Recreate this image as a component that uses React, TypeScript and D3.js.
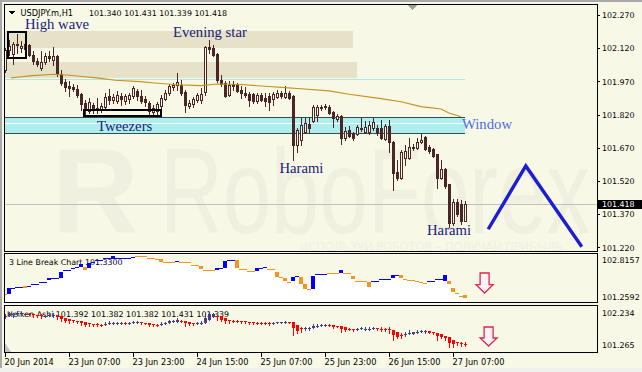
import React, { useEffect } from "react";
import * as d3 from "d3";

// ---------------- data ----------------
const symbolTitle = "USDJPY.m,H1";
const lastBarValues = ["101.340", "101.431", "101.339", "101.418"];
const currentPrice = 101.418;

const timeTickBars = [0, 16, 32, 48, 64, 80, 96, 112];
const timeTickLabels = [
  "20 Jun 2014", "23 Jun 07:00", "23 Jun 23:00", "24 Jun 15:00",
  "25 Jun 07:00", "25 Jun 23:00", "26 Jun 15:00", "27 Jun 07:00",
];
const priceTicks = [102.27, 102.12, 101.97, 101.82, 101.67, 101.52, 101.37, 101.22];

const open = [
  102.022, 102.112, 102.094, 102.139, 102.121, 102.139, 102.135, 102.089, 102.062, 102.031,
  102.058, 102.085, 102.067, 102.085, 102.004, 101.967, 101.949, 101.945, 101.936, 101.913,
  101.873, 101.836, 101.863, 101.850, 101.841, 101.854, 101.904, 101.886, 101.882, 101.904,
  101.882, 101.891, 101.904, 101.927, 101.904, 101.891, 101.873, 101.832, 101.836, 101.859,
  101.891, 101.918, 101.945, 101.954, 101.954, 101.922, 101.859, 101.868, 101.886, 101.886,
  101.922, 102.126, 102.121, 102.094, 101.976, 101.963, 101.909, 101.958, 101.954, 101.931,
  101.918, 101.913, 101.913, 101.882, 101.909, 101.895, 101.904, 101.891, 101.900, 101.918,
  101.900, 101.918, 101.904, 101.683, 101.705, 101.741, 101.778, 101.791, 101.818, 101.854,
  101.854, 101.854, 101.832, 101.800, 101.814, 101.714, 101.750, 101.737, 101.732, 101.755,
  101.741, 101.741, 101.759, 101.759, 101.759, 101.710, 101.768, 101.696, 101.561, 101.534,
  101.624, 101.624, 101.669, 101.669, 101.696, 101.719, 101.673, 101.664, 101.642, 101.534,
  101.574, 101.507, 101.330, 101.425, 101.416, 101.340,
];
const high = [
  102.121, 102.157, 102.148, 102.184, 102.153, 102.144, 102.139, 102.107, 102.076, 102.107,
  102.098, 102.107, 102.126, 102.089, 102.022, 101.981, 101.972, 101.958, 101.954, 101.918,
  101.886, 101.895, 101.873, 101.895, 101.873, 101.918, 101.936, 101.913, 101.927, 101.918,
  101.913, 101.918, 101.949, 101.936, 101.931, 101.904, 101.882, 101.863, 101.877, 101.909,
  101.931, 101.958, 101.963, 102.008, 101.976, 101.931, 101.886, 101.900, 101.918, 101.940,
  102.130, 102.157, 102.135, 102.098, 101.999, 101.972, 101.972, 101.972, 101.963, 101.949,
  101.945, 101.922, 101.918, 101.918, 101.918, 101.918, 101.918, 101.922, 101.931, 101.927,
  101.949, 101.927, 101.909, 101.759, 101.805, 101.805, 101.805, 101.863, 101.863, 101.863,
  101.868, 101.863, 101.836, 101.823, 101.818, 101.764, 101.768, 101.741, 101.773, 101.805,
  101.791, 101.791, 101.805, 101.773, 101.796, 101.778, 101.796, 101.701, 101.615, 101.660,
  101.683, 101.714, 101.687, 101.714, 101.732, 101.723, 101.683, 101.669, 101.642, 101.615,
  101.579, 101.507, 101.439, 101.439, 101.434, 101.431,
];
const low = [
  102.013, 102.089, 102.049, 102.098, 102.103, 102.094, 102.085, 102.049, 102.040, 102.022,
  102.049, 102.062, 102.044, 101.995, 101.954, 101.927, 101.904, 101.927, 101.900, 101.841,
  101.823, 101.827, 101.827, 101.827, 101.832, 101.841, 101.868, 101.873, 101.873, 101.863,
  101.868, 101.873, 101.895, 101.886, 101.873, 101.859, 101.818, 101.818, 101.823, 101.850,
  101.886, 101.909, 101.931, 101.931, 101.909, 101.832, 101.850, 101.854, 101.877, 101.873,
  101.909, 102.098, 102.085, 101.967, 101.949, 101.900, 101.904, 101.931, 101.922, 101.895,
  101.900, 101.859, 101.873, 101.873, 101.882, 101.859, 101.841, 101.863, 101.895, 101.895,
  101.895, 101.891, 101.615, 101.651, 101.683, 101.737, 101.737, 101.787, 101.791, 101.841,
  101.845, 101.823, 101.764, 101.791, 101.687, 101.705, 101.719, 101.705, 101.728, 101.746,
  101.737, 101.732, 101.750, 101.728, 101.710, 101.705, 101.651, 101.479, 101.525, 101.529,
  101.592, 101.619, 101.660, 101.664, 101.692, 101.660, 101.646, 101.628, 101.488, 101.529,
  101.488, 101.312, 101.321, 101.362, 101.326, 101.339,
];
const close = [
  102.112, 102.130, 102.139, 102.135, 102.130, 102.117, 102.089, 102.062, 102.049, 102.058,
  102.085, 102.076, 102.085, 102.004, 101.963, 101.945, 101.940, 101.936, 101.909, 101.868,
  101.841, 101.877, 101.850, 101.841, 101.859, 101.900, 101.886, 101.900, 101.909, 101.891,
  101.904, 101.909, 101.940, 101.904, 101.882, 101.877, 101.836, 101.850, 101.868, 101.895,
  101.918, 101.949, 101.954, 101.967, 101.918, 101.863, 101.873, 101.891, 101.909, 101.913,
  102.126, 102.117, 102.089, 101.976, 101.958, 101.904, 101.954, 101.949, 101.927, 101.918,
  101.909, 101.886, 101.882, 101.909, 101.886, 101.882, 101.877, 101.913, 101.918, 101.904,
  101.918, 101.895, 101.683, 101.750, 101.773, 101.782, 101.759, 101.854, 101.854, 101.850,
  101.859, 101.827, 101.805, 101.814, 101.714, 101.746, 101.723, 101.714, 101.764, 101.759,
  101.764, 101.773, 101.787, 101.737, 101.714, 101.768, 101.696, 101.556, 101.534, 101.651,
  101.655, 101.673, 101.673, 101.696, 101.705, 101.664, 101.655, 101.633, 101.534, 101.574,
  101.498, 101.330, 101.425, 101.371, 101.339, 101.418,
];

// moving average read at sample bars
const maBars = [1.5, 4.25, 6.75, 12.5, 16.25, 20, 23, 27.5, 33.75, 37.5, 43, 49, 53, 59, 65, 70, 74, 81, 86, 94, 99, 104, 109, 111, 114];
const maValues = [
  101.986, 101.991, 101.996, 102.002, 101.998, 101.991, 101.986, 101.975, 101.969, 101.963,
  101.955, 101.951, 101.958, 101.956, 101.948, 101.942, 101.937, 101.927, 101.912, 101.892,
  101.878, 101.856, 101.845, 101.827, 101.810,
];

// zones (bar range, price range)
const beigeZoneEndBars = [87, 88];
const beigeZoneTops = [102.198, 102.058];
const beigeZoneBottoms = [102.121, 101.986];
const windowZone = [115, 101.809, 101.737]; // end bar, top, bottom
const windowGap = [101.782, 101.776];
const cyanLineLevel = 101.981;

// annotation boxes [bar0, bar1, top, bottom]
const highWaveBox = [0.8, 5.2, 102.193, 102.076];
const tweezersBox = [19.75, 39, 101.841, 101.814];

const noteTexts = ["High wave", "Evening star", "Tweezers", "Harami", "Window", "Harami"];
const noteBars = [5, 42, 23, 68.6, 114.25, 105.5];
const notePrices = [102.207, 102.169, 101.748, 101.554, 101.753, 101.274];

const zigBars = [120.8, 130.2, 144.2];
const zigPrices = [101.302, 101.588, 101.223];

// 3 Line Break indicator
const lbRange = [101.2592, 102.8157];
const lbTitle = "3 Line Break Chart 101.3300";
const lbLevel = [
  101.452, 101.675, 101.675, 101.709, 101.709, 101.743, 101.743, 101.790, 101.790, 101.878,
  101.878, 102.014, 102.014, 102.014, 102.196, 102.264, 102.264, 102.332, 102.366, 102.467,
  102.274, 102.501, 102.535, 102.613, 102.613, 102.670, 102.670, 102.748, 102.691, 102.691,
  102.691, 102.691, 102.724, 102.738, 102.738, 102.738, 102.691, 102.691, 102.647, 102.555,
  102.555, 102.555, 102.555, 102.589, 102.535, 102.535, 102.535, 102.443, 102.443, 102.308,
  102.274, 102.274, 102.274, 102.332, 102.332, 102.579, 102.613, 102.613, 102.352, 102.318,
  102.318, 102.240, 102.240, 102.352, 102.352, 102.366, 102.298, 102.298, 102.027, 102.027,
  101.912, 101.878, 102.048, 102.071, 101.790, 101.631, 101.631, 102.071, 102.129, 102.129,
  102.129, 102.156, 102.156, 102.156, 102.274, 102.163, 102.163, 101.970, 101.902, 101.902,
  101.902, 101.709, 101.902, 101.902, 101.970, 101.970, 101.970, 102.105, 102.105, 101.993,
  101.960, 101.940, 101.920, 101.900, 101.868, 101.824, 101.902, 101.902, 101.960, 101.960,
  102.105, 101.790, 101.520, 101.506, 101.405, 101.330,
];
const lbUp = [
  0, 1, 1, 1, 1, 0, 1, 1, 1, 1,
  1, 1, 1, 1, 1, 1, 1, 1, 1, 1,
  0, 1, 1, 1, 1, 1, 1, 1, 1, 1,
  1, 1, 1, 0, 0, 0, 0, 0, 0, 0,
  0, 0, 0, 1, 0, 0, 0, 0, 0, 0,
  0, 0, 0, 1, 1, 1, 1, 1, 0, 0,
  0, 0, 0, 1, 1, 1, 0, 0, 0, 0,
  0, 0, 1, 1, 0, 0, 0, 1, 1, 1,
  1, 0, 0, 0, 1, 0, 0, 0, 0, 0,
  0, 0, 1, 1, 1, 1, 1, 1, 1, 0,
  0, 0, 0, 0, 0, 0, 1, 1, 1, 1,
  1, 0, 0, 0, 0, 0,
];
const lbBrickBar = [1, 5, 11, 14, 19, 20, 21, 27, 39, 43, 49, 53, 55, 58, 63, 68, 70, 72, 74, 75, 77, 84, 87, 91, 97, 99, 110, 111, 112, 115];
const lbBrickFrom = [
  101.472, 101.743, 101.946, 102.014, 102.386, 102.386, 102.352, 102.636, 102.647, 102.535,
  102.410, 102.274, 102.352, 102.613, 102.240, 102.217, 101.993, 101.912, 102.048, 101.790,
  101.631, 102.163, 102.081, 101.878, 102.014, 102.105, 101.902, 101.902, 101.655, 101.428,
];
const lbBrickTo = [
  101.675, 101.655, 102.014, 102.196, 102.467, 102.274, 102.501, 102.748, 102.555, 102.589,
  102.308, 102.332, 102.579, 102.352, 102.352, 102.027, 101.912, 102.048, 101.790, 101.631,
  102.071, 102.274, 101.970, 101.709, 102.105, 101.993, 102.105, 101.790, 101.520, 101.330,
];
const lbAxisLabels = ["102.8157", "101.2592"];

// Heiken Ashi indicator
const haRange = [101.265, 102.234];
const haTitle = "Heiken Ashi";
const haTitleValues = ["101.392", "101.382", "101.382", "101.431", "101.339"];
const haAxisLabels = ["102.234", "101.265"];

// signal arrows [bar, top, bottom]
const lbArrow = [119.9, 102.173, 101.496];
const haArrow = [120.9, 101.798, 101.338];

const watermarkText = "RoboForex";
const watermarkSub = "ИСПОЛЬЗУЙ РОБОТОВ – ПОЛУЧАЙ ПРИБЫЛЬ";

// ---------------- styles ----------------
const BG = "#f8f8e7";
const CANDLE = "#4a2626";
const UI = "'DejaVu Sans', Verdana, sans-serif";
const SERIF = "'Liberation Serif', 'Times New Roman', serif";
const FS = 7.9;
const FS_TIME = 8.2;

function arrowPath(cx: number, top: number, bottom: number) {
  const hy = top + (bottom - top) * 0.58;
  return `M${cx - 4.5},${top} H${cx + 4.5} V${hy} H${cx + 8.5} L${cx},${bottom} L${cx - 8.5},${hy} H${cx - 4.5} Z`;
}

export default function App() {
  useEffect(() => {
    document.body.style.margin = "0";
  }, []);

  const W = 642;
  const H = 372;
  const L = 5, R = 597;
  const mainTop = 4, mainBot = 251;
  const p1Top = 253, p1Bot = 302;
  const p2Top = 305, p2Bot = 352;

  const x = d3.scaleLinear().domain([0, 148]).range([L, R]);
  const y = d3.scaleLinear().domain([101.22, 102.27]).range([247.4, 15]);
  const yLB = d3.scaleLinear().domain(lbRange).range([300, 254]);
  const yHA = d3.scaleLinear().domain(haRange).range([349, 309]);

  const maPath = d3
    .line<number>()
    .x((_, k) => x(maBars[k]))
    .y((d) => y(d))(maValues) || "";

  const zigPath = d3
    .line<number>()
    .x((_, k) => x(zigBars[k]))
    .y((d) => y(d))(zigPrices) || "";

  const lbPts: [number, number][] = [];
  lbLevel.forEach((v, i) => {
    lbPts.push([x(i) - 2, yLB(v)]);
    lbPts.push([x(i) + 2, yLB(v)]);
  });
  const lbArea = d3
    .area<[number, number]>()
    .x((d) => d[0])
    .y0(p1Bot)
    .y1((d) => d[1])(lbPts) || "";

  // Heiken Ashi derived from the OHLC arrays
  const haO: number[] = [];
  const haC: number[] = [];
  open.forEach((o, i) => {
    const c = (o + high[i] + low[i] + close[i]) / 4;
    const ho = i === 0 ? (o + close[i]) / 2 : (haO[i - 1] + haC[i - 1]) / 2;
    haO.push(ho);
    haC.push(c);
  });

  const brickSet = new Set(lbBrickBar);

  return (
    <div style={{ position: "absolute", left: 0, top: 0 }}>
      <svg width={W} height={H} style={{ display: "block" }} shapeRendering="crispEdges">
        <defs>
          <clipPath id="mainClip">
            <rect x={L} y={mainTop} width={R - L} height={mainBot - mainTop} />
          </clipPath>
          <clipPath id="p1Clip">
            <rect x={L} y={p1Top} width={R - L} height={p1Bot - p1Top} />
          </clipPath>
          <clipPath id="p2Clip">
            <rect x={L} y={p2Top} width={R - L} height={p2Bot - p2Top} />
          </clipPath>
        </defs>
        <rect x={0} y={0} width={W} height={H} fill={BG} />
        <rect x={0} y={0} width={W} height={2} fill="#a9a9a9" />
        <rect x={0} y={0} width={2} height={H} fill="#a9a9a9" />
        <rect x={0} y={368} width={W} height={4} fill="#f0f0ec" />

        {/* ---------- main panel ---------- */}
        <g clipPath="url(#mainClip)">
          {/* watermark */}
          <text x={52} y={233} fontFamily="'Liberation Sans', Arial, sans-serif" fontWeight="bold" fontSize={120}
            fill="#f0f0e1" shapeRendering="auto">R</text>
          <text x={160} y={233} fontFamily="'Liberation Sans', Arial, sans-serif" fontSize={120}
            textLength={430} lengthAdjust="spacingAndGlyphs" fill="#f0f0e1">{watermarkText}</text>
          <text x={300} y={251} fontFamily={UI} fontSize={12} textLength={263}
            lengthAdjust="spacingAndGlyphs" fill="#f0f0e1">{watermarkSub}</text>

          {beigeZoneEndBars.map((b, k) => (
            <rect key={"bz" + k} x={L} y={y(beigeZoneTops[k])} width={x(b) - L}
              height={y(beigeZoneBottoms[k]) - y(beigeZoneTops[k])} fill="#e5e2c7" />
          ))}
          <line x1={L} x2={x(windowZone[0])} y1={Math.round(y(cyanLineLevel)) + 0.5}
            y2={Math.round(y(cyanLineLevel)) + 0.5} stroke="#b2e6e6" />
          <rect x={L} y={y(windowZone[1])} width={x(windowZone[0]) - L}
            height={y(windowZone[2]) - y(windowZone[1])} fill="#aeeeee" />
          <rect x={L} y={y(windowGap[0])} width={x(windowZone[0]) - L}
            height={y(windowGap[1]) - y(windowGap[0])} fill="#ffffff" />
          <line x1={L} x2={x(windowZone[0])} y1={Math.round(y(windowZone[1])) + 0.5}
            y2={Math.round(y(windowZone[1])) + 0.5} stroke="#2f5050" />
          <line x1={L} x2={x(windowZone[0])} y1={Math.round(y(windowZone[2])) + 0.5}
            y2={Math.round(y(windowZone[2])) + 0.5} stroke="#2f5050" />

          <line x1={L} x2={R} y1={Math.round(y(currentPrice)) + 0.5} y2={Math.round(y(currentPrice)) + 0.5}
            stroke="#c0c0c0" />

          {/* candles */}
          {open.map((o, i) => {
            const c = close[i];
            const cx = Math.round(x(i));
            const up = c >= o;
            const yt = Math.round(y(Math.max(o, c)));
            const yb = Math.round(y(Math.min(o, c)));
            const yh = Math.round(y(high[i]));
            const yl = Math.round(y(low[i]));
            return (
              <g key={"c" + i}>
                <line x1={cx + 0.5} x2={cx + 0.5} y1={yh} y2={yl + 1} stroke={CANDLE} />
                {up ? (
                  <rect x={cx - 0.5} y={yt + 0.5} width={2} height={Math.max(yb - yt, 1)} fill={BG} stroke={CANDLE} />
                ) : (
                  <rect x={cx - 1} y={yt} width={3} height={Math.max(yb - yt + 1, 1)} fill={CANDLE} />
                )}
              </g>
            );
          })}

          <path d={maPath} fill="none" stroke="#c8911c" strokeWidth={1.1} shapeRendering="auto" />

          {/* annotation boxes */}
          {[highWaveBox, tweezersBox].map((b, k) => (
            <rect key={"ab" + k} x={x(b[0])} y={y(b[2])} width={x(b[1]) - x(b[0])} height={y(b[3]) - y(b[2])}
              fill="none" stroke="#000" strokeWidth={2} />
          ))}

          <path d={zigPath} fill="none" stroke="#1d1dd2" strokeWidth={3.4} strokeLinejoin="miter"
            shapeRendering="auto" />

          {noteTexts.map((t, k) => (
            <text key={"n" + k} x={x(noteBars[k])} y={y(notePrices[k])} fontFamily={SERIF} fontSize={14.7}
              fill={t === "Window" ? "#4d6de6" : "#20207a"} shapeRendering="auto">{t}</text>
          ))}
        </g>
        <rect x={L - 0.5} y={mainTop + 0.5} width={R - L + 1} height={mainBot - mainTop} fill="none" stroke="#000" />
        <path d="M407,5 L417,5 L412,10 Z" fill="#a0a0a0" />

        {/* main title */}
        <path d="M9,11 L15,11 L12,15 Z" fill="#000" />
        <text x={20.5} y={16} fontFamily={UI} fontSize={FS_TIME} fill="#000">{symbolTitle}</text>
        <text x={89} y={16} fontFamily={UI} fontSize={FS} fill="#000">{lastBarValues.join(" ")}</text>

        {/* price axis */}
        {priceTicks.map((p) => (
          <g key={"pt" + p}>
            <line x1={R} x2={R + 3} y1={Math.round(y(p)) + 0.5} y2={Math.round(y(p)) + 0.5} stroke="#000" />
            <text x={602} y={y(p) + 3.2} fontFamily={UI} fontSize={FS} fill="#000">{p.toFixed(3)}</text>
          </g>
        ))}
        <rect x={598} y={Math.round(y(currentPrice)) - 4.5} width={44} height={9.5} fill="#000" />
        <text x={602} y={y(currentPrice) + 3.2} fontFamily={UI} fontSize={FS} fill="#fff">{currentPrice.toFixed(3)}</text>

        {/* ---------- 3 line break panel ---------- */}
        <g clipPath="url(#p1Clip)">
          <path d={lbArea} fill="#ffffff" />
        </g>
        <text x={9} y={264.5} fontFamily={UI} fontSize={FS} fill="#000">{lbTitle}</text>
        <g clipPath="url(#p1Clip)">
          {lbLevel.map((v, i) =>
            brickSet.has(i) ? null : (
              <line key={"ll" + i} x1={x(i) - 2} x2={x(i) + 2} y1={Math.round(yLB(v)) + 0.5}
                y2={Math.round(yLB(v)) + 0.5} stroke={lbUp[i] ? "#0000ff" : "#f7931e"} />
            )
          )}
          {lbBrickBar.map((b, k) => {
            const a = yLB(lbBrickFrom[k]);
            const c = yLB(lbBrickTo[k]);
            return (
              <rect key={"lb" + k} x={x(b) - 2} y={Math.min(a, c)} width={4} height={Math.abs(a - c)}
                fill={lbBrickTo[k] > lbBrickFrom[k] ? "#0000ff" : "#f7931e"} />
            );
          })}
          <path d={arrowPath(x(lbArrow[0]), yLB(lbArrow[1]), yLB(lbArrow[2]))} fill="#fff2f4" stroke="#e0254f"
            strokeWidth={1.3} shapeRendering="auto" />
        </g>
        <rect x={L - 0.5} y={p1Top + 0.5} width={R - L + 1} height={p1Bot - p1Top} fill="none" stroke="#000" />
        <text x={602} y={263} fontFamily={UI} fontSize={FS} fill="#000">{lbAxisLabels[0]}</text>
        <text x={602} y={300} fontFamily={UI} fontSize={FS} fill="#000">{lbAxisLabels[1]}</text>

        {/* ---------- Heiken Ashi panel ---------- */}
        <text x={7} y={317} fontFamily={UI} fontSize={FS} fill="#000">
          {haTitle + " " + haTitleValues.join(" ")}
        </text>
        <g clipPath="url(#p2Clip)">
          {haO.map((ho, i) => {
            const hc = haC[i];
            const hh = Math.max(high[i], ho, hc);
            const hl = Math.min(low[i], ho, hc);
            const col = hc < ho ? "#ff0000" : "#483d8b";
            const cx = Math.round(x(i));
            const yt = Math.round(yHA(Math.max(ho, hc)));
            const yb = Math.round(yHA(Math.min(ho, hc)));
            return (
              <g key={"ha" + i}>
                <line x1={cx + 0.5} x2={cx + 0.5} y1={Math.round(yHA(hh))} y2={Math.round(yHA(hl)) + 1} stroke={col} />
                <rect x={cx - 1} y={yt} width={3} height={Math.max(yb - yt, 1)} fill={col} />
              </g>
            );
          })}
          <path d={arrowPath(x(haArrow[0]), yHA(haArrow[1]), yHA(haArrow[2]))} fill="#fff2f4" stroke="#e0254f"
            strokeWidth={1.3} shapeRendering="auto" />
          <path d={`M${L},${p2Bot - 9} L${L},${p2Bot} L${L + 6},${p2Bot} Z`} fill="#c4c4c4" />
        </g>
        <rect x={L - 0.5} y={p2Top + 0.5} width={R - L + 1} height={p2Bot - p2Top} fill="none" stroke="#000" />
        <text x={602} y={316} fontFamily={UI} fontSize={FS} fill="#000">{haAxisLabels[0]}</text>
        <text x={602} y={348} fontFamily={UI} fontSize={FS} fill="#000">{haAxisLabels[1]}</text>

        {/* ---------- time axis ---------- */}
        {timeTickBars.map((b, k) => (
          <g key={"tt" + k}>
            <line x1={Math.round(x(b)) + 0.5} x2={Math.round(x(b)) + 0.5} y1={p2Bot + 1} y2={p2Bot + 5} stroke="#000" />
            <text x={x(b) - 0.5} y={364.5} fontFamily={UI} fontSize={FS_TIME} fill="#000">{timeTickLabels[k]}</text>
          </g>
        ))}
      </svg>
    </div>
  );
}
